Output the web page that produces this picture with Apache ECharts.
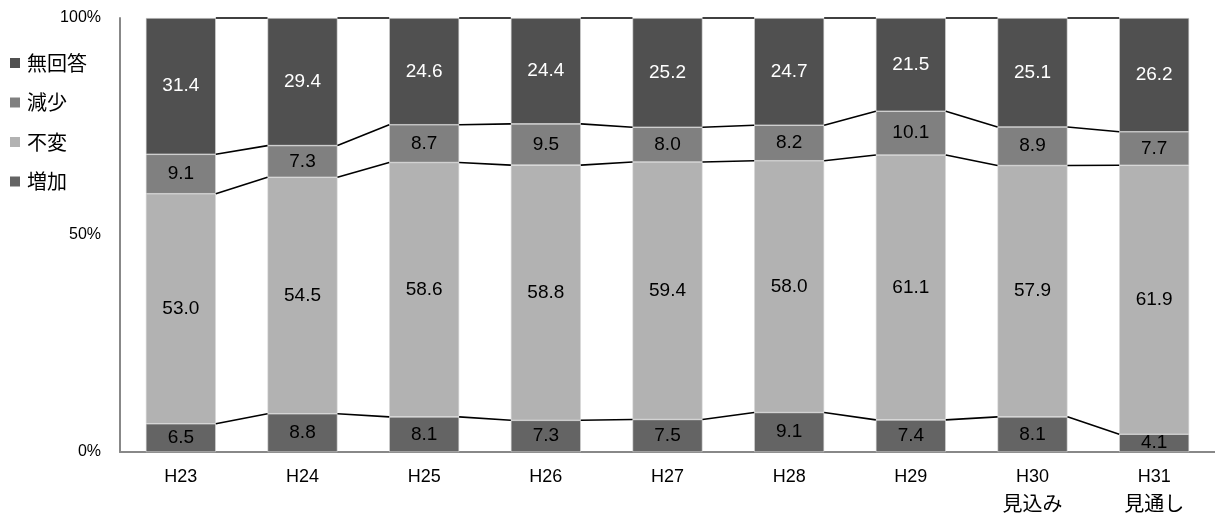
<!DOCTYPE html>
<html><head><meta charset="utf-8">
<script src="https://cdn.jsdelivr.net/npm/echarts@6/dist/echarts.min.js"></script>
<style>html,body{margin:0;padding:0;background:#fff}#c{width:1215px;height:520px}</style>
</head><body><div id="c"></div>
<script>
const categories = ['H23','H24','H25','H26','H27','H28','H29','H30\n見込み','H31\n見通し'];
const zouka   = [6.5, 8.8, 8.1, 7.3, 7.5, 9.1, 7.4, 8.1, 4.1];
const fuhen   = [53.0, 54.5, 58.6, 58.8, 59.4, 58.0, 61.1, 57.9, 61.9];
const genshou = [9.1, 7.3, 8.7, 9.5, 8.0, 8.2, 10.1, 8.9, 7.7];
const mukaitou= [31.4, 29.4, 24.6, 24.4, 25.2, 24.7, 21.5, 25.1, 26.2];
const yTicks = ['0%','50%','100%'];

const seriesDefs = [
  {name:'増加', vals:zouka, color:'#646464', label:'#000'},
  {name:'不変', vals:fuhen, color:'#b2b2b2', label:'#000'},
  {name:'減少', vals:genshou, color:'#808080', label:'#000'},
  {name:'無回答', vals:mukaitou, color:'#505050', label:'#fff'}
];
const totals = categories.map((_,i)=>seriesDefs.reduce((s,d)=>s+d.vals[i],0));
const shares = seriesDefs.map(d=>d.vals.map((v,i)=>v/totals[i]*100));
const cum = seriesDefs.map((d,k)=>categories.map((_,i)=>{let s=0;for(let j=0;j<=k;j++)s+=shares[j][i];return s;}));

const BAR_RATIO = 0.575;
const numFont = '"Liberation Sans",Arial,sans-serif';
const cjkFont = '"Noto Sans CJK JP",sans-serif';

const series = seriesDefs.map((d,k)=>({
  name:d.name, type:'bar', stack:'t', barWidth:(BAR_RATIO*100)+'%',
  itemStyle:{color:d.color, borderColor:'#d8d8d8', borderWidth:0.6},
  label:{show:true, position:'inside', color:d.label, fontSize:19, fontFamily:numFont,
    formatter:p=>d.vals[p.dataIndex].toFixed(1)},
  data:shares[k]
}));

const lineData = [];
cum.forEach((arr,k)=>{ for(let i=0;i<arr.length-1;i++) lineData.push([i, arr[i], arr[i+1]]); });
series.push({
  type:'custom', silent:true, z:5,
  renderItem:(params, api)=>{
    const i = api.value(0);
    const bw = api.size([1,0])[0]*BAR_RATIO;
    const p1 = api.coord([i, api.value(1)]);
    const p2 = api.coord([i+1, api.value(2)]);
    return {type:'line', shape:{x1:p1[0]+bw/2, y1:p1[1], x2:p2[0]-bw/2, y2:p2[1]},
      style:{stroke:'#000', lineWidth:1.6}};
  },
  encode:{x:0, y:1},
  data:lineData
});

const chart = echarts.init(document.getElementById('c'));
chart.setOption({
  animation:false,
  legend:{
    orient:'vertical', left:5, top:48, itemGap:19.5, itemWidth:10, itemHeight:10,
    icon:'rect', itemStyle:{borderWidth:0},
    textStyle:{fontSize:20, color:'#000', fontFamily:cjkFont, padding:[0,0,0,2]},
    data:['無回答','減少','不変','増加']
  },
  grid:{left:120, top:18, width:1097, height:434, containLabel:false},
  xAxis:{type:'category', data:categories,
    axisLine:{lineStyle:{color:'#888', width:2}}, axisTick:{show:false},
    axisLabel:{margin:12,
      formatter:v=>{const p=v.split('\n'); return p.length>1?'{a|'+p[0]+'}\n{b|'+p[1]+'}':'{a|'+p[0]+'}';},
      rich:{
        a:{fontSize:18, fontFamily:numFont, color:'#000', lineHeight:26},
        b:{fontSize:20, fontFamily:cjkFont, color:'#000', lineHeight:26}
      }}},
  yAxis:{type:'value', min:0, max:100, interval:50,
    axisLine:{show:true, lineStyle:{color:'#888', width:2}}, axisTick:{show:false},
    splitLine:{show:false},
    axisLabel:{color:'#000', fontSize:16, margin:19, fontFamily:numFont, formatter:v=>yTicks[v/50]}},
  series:series
});
</script></body></html>
